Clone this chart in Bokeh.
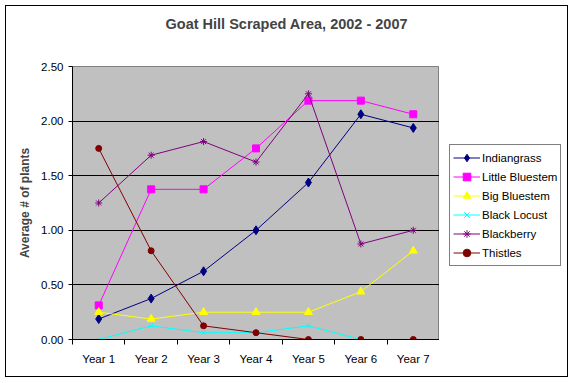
from bokeh.plotting import figure
from bokeh.layouts import row
from bokeh.models import Range1d, FixedTicker, Legend, LegendItem, PrintfTickFormatter, Title
from bokeh.embed import file_html
from bokeh.resources import INLINE

years = ["Year 1", "Year 2", "Year 3", "Year 4", "Year 5", "Year 6", "Year 7"]
indiangrass = [0.1875, 0.375, 0.625, 1.0, 1.4375, 2.0625, 1.9375]
little_bluestem = [0.3125, 1.375, 1.375, 1.75, 2.1875, 2.1875, 2.0625]
big_bluestem = [0.25, 0.1875, 0.25, 0.25, 0.25, 0.4375, 0.8125]
black_locust = [0.0, 0.125, 0.0625, 0.0625, 0.125, 0.0, 0.0]
blackberry = [1.25, 1.6875, 1.8125, 1.625, 2.25, 0.875, 1.0]
thistles = [1.75, 0.8125, 0.125, 0.0625, 0.0, 0.0, 0.0]

series = [
    ("Indiangrass", indiangrass, "#000080", "diamond", 9),
    ("Little Bluestem", little_bluestem, "#FF00FF", "square", 7),
    ("Big Bluestem", big_bluestem, "#FFFF00", "triangle", 8),
    ("Black Locust", black_locust, "#00FFFF", "x", 6),
    ("Blackberry", blackberry, "#800080", "asterisk", 7),
    ("Thistles", thistles, "#800000", "circle", 6),
]

FONT = "Liberation Sans"
xs = [i + 0.5 for i in range(len(years))]

p = figure(width=433, height=370, output_backend="svg", toolbar_location=None, title=None,
           x_range=Range1d(0, len(years)), y_range=Range1d(0, 2.5),
           min_border_left=66, min_border_right=0, min_border_top=60, min_border_bottom=37)

p.background_fill_color = "#C0C0C0"
p.border_fill_color = "white"
p.outline_line_color = "#808080"

# spacer panel between the frame and the title, then the title itself
p.add_layout(Title(text=" ", text_font_size="1px", standoff=32), "above")
p.add_layout(Title(text="Goat Hill Scraped Area, 2002 - 2007", align="left", offset=93,
                   standoff=0, text_font=FONT, text_font_size="14.5px",
                   text_font_style="bold"), "above")

# x axis
p.xaxis.ticker = FixedTicker(ticks=xs, minor_ticks=list(range(len(years) + 1)))
p.xaxis.major_label_overrides = {x: lab for x, lab in zip(xs, years)}
p.xaxis.major_tick_line_color = None
p.xaxis.major_tick_out = 0
p.xaxis.major_tick_in = 0
p.xaxis.minor_tick_line_color = "black"
p.xaxis.minor_tick_out = 5
p.xaxis.minor_tick_in = 0
p.xaxis.axis_line_color = "black"
p.xaxis.major_label_standoff = 8
p.xaxis.major_label_text_font = FONT
p.xaxis.major_label_text_font_size = "11.5px"
p.xaxis.major_label_text_color = "black"

# y axis
p.yaxis.ticker = FixedTicker(ticks=[0, 0.5, 1.0, 1.5, 2.0, 2.5], minor_ticks=[])
p.yaxis.formatter = PrintfTickFormatter(format="%.2f")
p.yaxis.major_tick_out = 4
p.yaxis.major_tick_in = 0
p.yaxis.major_tick_line_color = "black"
p.yaxis.axis_line_color = "black"
p.yaxis.major_label_standoff = 5
p.yaxis.major_label_text_font = FONT
p.yaxis.major_label_text_font_size = "11.5px"
p.yaxis.major_label_text_color = "black"
p.yaxis.axis_label = "Average # of plants"
p.yaxis.axis_label_text_font = FONT
p.yaxis.axis_label_text_font_size = "12px"
p.yaxis.axis_label_text_font_style = "bold"
p.yaxis.axis_label_standoff = 6

p.xgrid.grid_line_color = None
p.ygrid.grid_line_color = "black"
p.ygrid.grid_line_width = 1

# legend panel: a second figure whose data range is off-screen
p2 = figure(width=128, height=370, output_backend="svg", toolbar_location=None,
            x_range=Range1d(100, 101), y_range=Range1d(100, 101), min_border=0)
p2.xaxis.visible = False
p2.yaxis.visible = False
p2.xgrid.grid_line_color = None
p2.ygrid.grid_line_color = None
p2.outline_line_color = None
p2.background_fill_color = "white"
p2.border_fill_color = "white"

items = []
for name, vals, color, marker, size in series:
    p.line(xs, vals, line_color=color, line_width=1)
    p.scatter(xs, vals, marker=marker, size=size, fill_color=color, line_color=color)
    ln = p2.line(xs, vals, line_color=color, line_width=1)
    sc = p2.scatter(xs, vals, marker=marker, size=size, fill_color=color, line_color=color)
    items.append(LegendItem(label=name, renderers=[ln, sc]))

legend = Legend(items=items, location=(10, 73))
legend.label_text_font = FONT
legend.label_text_font_size = "11.5px"
legend.label_text_color = "black"
legend.glyph_width = 27
legend.glyph_height = 19
legend.label_height = 19
legend.label_standoff = 2
legend.spacing = 0
legend.padding = 3
legend.margin = 0
legend.border_line_color = "black"
legend.border_line_width = 1
legend.background_fill_color = "white"
legend.background_fill_alpha = 1
p2.add_layout(legend, "center")

layout = row(p, p2, spacing=0)
layout.styles = {"border": "1px solid black", "margin-left": "5px", "margin-top": "5px"}

open("out.html", "w").write(file_html(layout, INLINE))
